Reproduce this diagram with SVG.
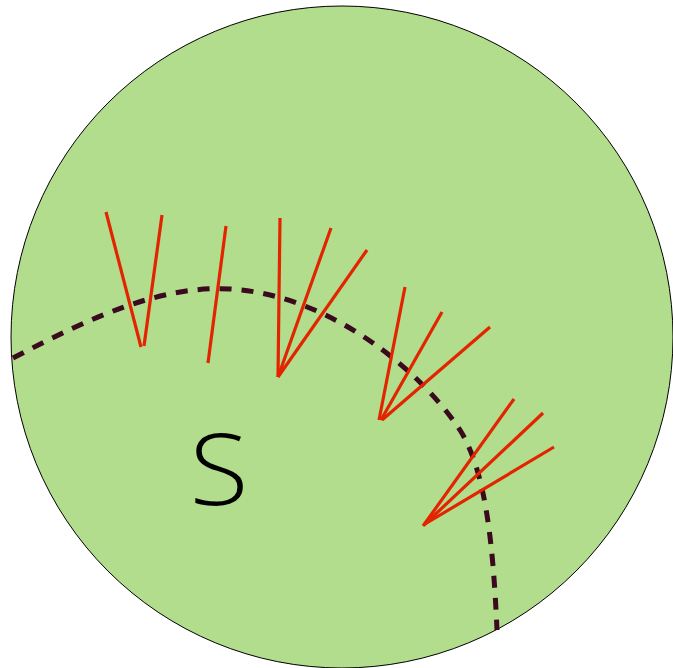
<svg xmlns="http://www.w3.org/2000/svg" width="673" height="668" viewBox="0 0 673 668">
<style>
.red{stroke:#e32400;stroke-width:3.2;fill:none;stroke-linecap:butt}
.dash{stroke:#3a0a1e;stroke-width:5;fill:none;stroke-dasharray:12 10}
</style>
<rect width="673" height="668" fill="#ffffff"/>
<g id="region">
<circle cx="342" cy="337" r="331" fill="#b2dd8d" stroke="#000000" stroke-width="1"/>
<text x="219" y="505" font-family="Open Sans, Liberation Sans, Arial, sans-serif" font-weight="300" font-size="100" text-anchor="middle" fill="#000000" transform="translate(219 505) scale(1.08 1) translate(-219 -505)">S</text>
</g>
<g id="connectors">
<path class="dash" d="M 13 358 C 90 318, 160 285, 230 289 C 330 295, 420 370, 460 430 C 485 470, 493 540, 497 630"/>
<line class="red" x1="106" y1="212" x2="141" y2="347"/>
<line class="red" x1="162" y1="215" x2="144" y2="346"/>
<line class="red" x1="226" y1="226" x2="208" y2="363"/>
<line class="red" x1="280" y1="218" x2="278" y2="377"/>
<line class="red" x1="331" y1="228" x2="278" y2="377"/>
<line class="red" x1="367" y1="250" x2="278" y2="377"/>
<line class="red" x1="405" y1="287" x2="379" y2="420"/>
<line class="red" x1="442" y1="312" x2="381" y2="420"/>
<line class="red" x1="490" y1="327" x2="382" y2="420"/>
<line class="red" x1="514" y1="399" x2="423" y2="526"/>
<line class="red" x1="543" y1="413" x2="424" y2="525"/>
<line class="red" x1="554" y1="447" x2="425" y2="524"/>
</g>
</svg>
